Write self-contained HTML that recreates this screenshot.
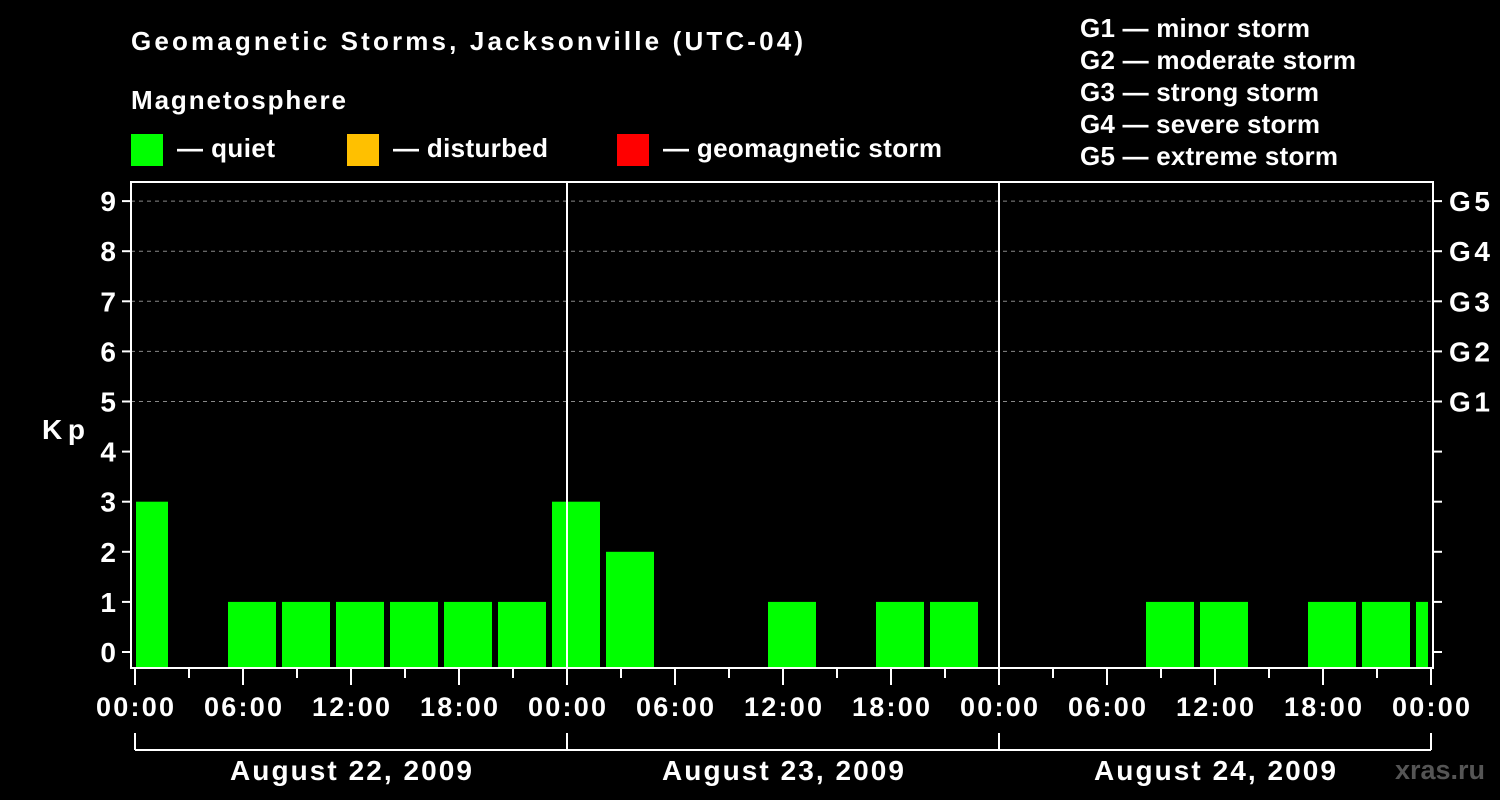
<!DOCTYPE html>
<html><head><meta charset="utf-8"><style>
html,body{margin:0;padding:0;background:#000;}
svg{display:block;font-family:"Liberation Sans",Arial,sans-serif;font-weight:bold;}
</style></head><body>
<svg id="chart" width="1500" height="800" viewBox="0 0 1500 800">
<rect width="1500" height="800" fill="#000"/>
<text x="131" y="50" fill="#fff" font-size="26" textLength="672" lengthAdjust="spacing">Geomagnetic Storms, Jacksonville (UTC-04)</text>
<text x="131" y="109" fill="#fff" font-size="26" textLength="215" lengthAdjust="spacing">Magnetosphere</text>
<g><rect x="131" y="134" width="32" height="32" fill="#00ff00"/><text x="177" y="157" fill="#fff" font-size="26" textLength="98" lengthAdjust="spacing">— quiet</text></g>
<g><rect x="347" y="134" width="32" height="32" fill="#ffc000"/><text x="393" y="157" fill="#fff" font-size="26" textLength="155" lengthAdjust="spacing">— disturbed</text></g>
<g><rect x="617" y="134" width="32" height="32" fill="#ff0000"/><text x="663" y="157" fill="#fff" font-size="26" textLength="279" lengthAdjust="spacing">— geomagnetic storm</text></g>
<g fill="#fff" font-size="26">
<text x="1080" y="37" textLength="230" lengthAdjust="spacing">G1 — minor storm</text>
<text x="1080" y="69" textLength="276" lengthAdjust="spacing">G2 — moderate storm</text>
<text x="1080" y="101" textLength="239" lengthAdjust="spacing">G3 — strong storm</text>
<text x="1080" y="133" textLength="240" lengthAdjust="spacing">G4 — severe storm</text>
<text x="1080" y="165" textLength="258" lengthAdjust="spacing">G5 — extreme storm</text>
</g>
<text x="42" y="439" fill="#fff" font-size="28" textLength="43" lengthAdjust="spacing">Kp</text>
<text x="1395" y="779" fill="#555" font-size="27" textLength="90" lengthAdjust="spacing">xras.ru</text>
<g id="plot"></g>
</svg>
<script>
const yTicks = [0,1,2,3,4,5,6,7,8,9];
const gLabels = ["G1","G2","G3","G4","G5"];
const gLevels = [5,6,7,8,9];
const xTickLabels = ["00:00","06:00","12:00","18:00","00:00","06:00","12:00","18:00","00:00","06:00","12:00","18:00","00:00"];
const dayLabels = ["August 22, 2009","August 23, 2009","August 24, 2009"];
// bar start hours (local, from Aug 22 00:00) and Kp values (null = no data)
const barStarts = [-1,2,5,8,11,14,17,20,23,26,29,32,35,38,41,44,47,50,53,56,59,62,65,68,71];
const kpValues = [3,null,1,1,1,1,1,1,3,2,null,null,1,null,1,1,null,null,null,1,1,null,1,1,1];

const NS="http://www.w3.org/2000/svg";
const plot=document.getElementById('plot');
const X0=135, PX_H=18, Y0=652, PX_K=50.1;
const L=131, R=1433, T=182, B=668;
const xs=h=>X0+h*PX_H;
const ys=k=>Y0-k*PX_K;
function mk(tag,attrs,parent){const e=document.createElementNS(NS,tag);for(const k in attrs)e.setAttribute(k,attrs[k]);(parent||plot).appendChild(e);return e;}

gLevels.forEach(k=>{
  const l=mk('line',{x1:L,x2:R,y1:ys(k),y2:ys(k),stroke:'#888','stroke-dasharray':'4,4','stroke-width':1});
  
  
});
barStarts.forEach((s,i)=>{
  const v=kpValues[i]; if(v===null) return;
  let x1=Math.max(xs(s)+3,X0+1), x2=Math.min(xs(s+3)-3,xs(72)-3);
  const r=mk('rect',{x:x1,y:ys(v),width:x2-x1,height:B-1-ys(v),fill:'#00ff00'});
  
  
});
[24,48].forEach(h=>{
  const l=mk('line',{x1:xs(h),x2:xs(h),y1:T,y2:B,stroke:'#fff','stroke-width':2});
  
  
});
const f=mk('rect',{x:L,y:T,width:R-L,height:B-T,fill:'none',stroke:'#fff','stroke-width':2});


yTicks.forEach(k=>{
  const y=ys(k);
  const t=mk('line',{x1:L-9,x2:L,y1:y,y2:y,stroke:'#fff','stroke-width':2});
  
  
  const t2=mk('line',{x1:R,x2:R+9,y1:y,y2:y,stroke:'#fff','stroke-width':2});
  
  
  const tx=mk('text',{x:L-15,y:y+10,fill:'#fff','font-size':28,'text-anchor':'end'});
  tx.textContent=k;
  
  
});
gLabels.forEach((g,i)=>{
  const tx=mk('text',{x:R+16,y:ys(gLevels[i])+10,fill:'#fff','font-size':28,textLength:41,lengthAdjust:'spacing'});
  tx.textContent=g;
  
  
});
for(let h=0;h<=72;h+=3){
  const major=h%6===0;
  const t=mk('line',{x1:xs(h),x2:xs(h),y1:B,y2:B+(major?17:10),stroke:'#fff','stroke-width':2});
  
  
}
xTickLabels.forEach((s,i)=>{
  const tx=mk('text',{x:xs(i*6),y:716,fill:'#fff','font-size':27,'text-anchor':'middle',textLength:78,lengthAdjust:'spacing'});
  tx.textContent=s;
  
  
});
const br=mk('line',{x1:xs(0),x2:xs(72),y1:750,y2:750,stroke:'#fff','stroke-width':2});


[0,24,48,72].forEach(h=>{
  const t=mk('line',{x1:xs(h),x2:xs(h),y1:733,y2:750,stroke:'#fff','stroke-width':2});
  
  
});
dayLabels.forEach((d,i)=>{
  const tx=mk('text',{x:xs(i*24+12),y:780,fill:'#fff','font-size':28,'text-anchor':'middle',textLength:242,lengthAdjust:'spacing'});
  tx.textContent=d;
  
  
});
</script>
</body></html>
